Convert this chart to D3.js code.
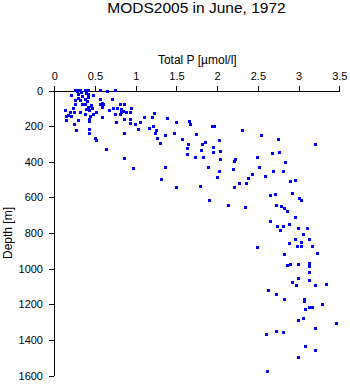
<!DOCTYPE html>
<html>
<head>
<meta charset="utf-8">
<script src="https://cdn.jsdelivr.net/npm/d3@7"></script>
<style>
  html, body { margin: 0; padding: 0; background: #fff; }
  svg { display: block; font-family: "Liberation Sans", Arial, Helvetica, sans-serif; }
  .axis path, .axis line { stroke: #000; stroke-width: 1; shape-rendering: crispEdges; }
  .axis text { fill: #000; font-size: 11px; }
</style>
</head>
<body>
<svg id="chart" width="350" height="384"></svg>
<script>
// Chart text
const title = "MODS2005 in June, 1972";
const xTitle = "Total P [\u00b5mol/l]";
const yTitle = "Depth [m]";

// Axis ticks
const pTicks = [0, 0.5, 1, 1.5, 2, 2.5, 3, 3.5];
const depthTicks = [0, 200, 400, 600, 800, 1000, 1200, 1400, 1600];

// Observations: total phosphorus (µmol/l) and sample depth (m)
const totalP = [
  0.258, 0.300, 0.279, 0.381, 0.414, 0.398, 0.422, 0.479, 0.570, 0.659,
  0.749, 0.209, 0.266, 0.300, 0.324, 0.381, 0.414, 0.405, 0.570, 0.586,
  0.709, 0.266, 0.349, 0.381, 0.422, 0.454, 0.475, 0.586, 0.233, 0.398,
  0.135, 0.193, 0.242, 0.316, 0.381, 0.430, 0.521, 0.684, 0.725, 0.774,
  0.807, 0.823, 0.152, 0.209, 0.447, 0.430, 0.586, 0.749, 0.316, 0.340,
  0.303, 0.352,
  0.570, 0.602, 0.810, 0.865, 0.828, 0.847, 0.889, 0.942, 0.933, 0.479,
  0.459, 0.172, 0.147, 0.300, 0.254, 0.270,
  0.438, 0.430, 0.430, 0.500, 0.516, 0.635, 0.761, 0.860, 0.933, 0.933,
  0.860, 0.860, 0.970, 1.003, 1.032, 1.061, 1.102, 1.203, 1.228, 1.175,
  1.216, 1.237, 1.261, 1.265, 1.310, 1.368, 1.388, 1.319, 1.363, 1.474,
  1.498, 1.498,
  1.572, 1.646, 1.638, 1.638, 1.658, 1.670, 1.744, 1.740, 1.793, 1.805,
  1.817, 1.830, 1.854, 1.891, 1.903, 1.940, 1.965, 1.957, 1.957, 2.002,
  2.026, 2.026, 2.039, 2.039, 2.137, 2.198, 2.210, 2.231, 2.210, 2.272,
  2.309, 2.346, 2.358, 2.387, 2.432, 2.493, 2.498, 2.517, 2.542, 2.591,
  2.603, 2.616, 2.628, 2.657, 2.661, 2.677, 2.689, 2.714, 2.726, 2.726,
  2.726, 2.739, 2.756, 2.768, 2.775, 2.788, 2.809, 2.809, 2.809, 2.825,
  2.825, 2.825, 2.837, 2.858, 2.861, 2.886, 2.886, 2.895, 2.898, 2.923,
  2.928, 2.960, 2.960, 2.965, 2.972, 2.984, 2.993, 2.996, 2.996, 2.996,
  2.996, 3.009, 3.033, 3.033, 3.033, 3.058, 3.058, 3.070, 3.070, 3.082,
  3.087, 3.107, 3.128, 3.128, 3.131, 3.136, 3.136, 3.131, 3.168, 3.168,
  3.205, 3.205, 3.205, 3.205, 3.230, 3.291, 3.340, 3.463
];
const depth = [
     0,    1,    8,    0,    1,   16,   20,   27,    0,    5,
     0,   27,   54,   46,   57,   48,   38,   61,   50,   72,
    50,   80,   76,   80,   95,   91,  103,   95,   99,  106,
   110,  121,  125,  125,  132,  114,  121,  114,  103,  103,
    80,  121,  148,  148,  148,  162,  151,  132,    0,   14,
    25,   34,
    78,   80,  134,   78,  106,  119,  125,  100,  125,  134,
    82,  138,  168,  168,  190,  223,
   176,  219,  241,  269,  279,  331,  179,  161,  162,  183,
   241,  379,  438,  190,  219,  177,  151,  151,  128,  215,
   202,  241,  226,  272,  297,  252,  155,  497,  433,  239,
   177,  545,
   275,  301,  326,  359,  176,  190,  245,  376,  540,  337,
   301,  376,  294,  433,  617,  202,  200,  320,  346,  489,
   281,  454,  343,  388,  647,  444,  396,  386,  545,  523,
   224,  658,  523,  495,  472,  376,  883,  433,  252,  483,
  1372, 1576, 1120,  737,  590,  354,  455,  585,  647, 1145,
  1351,  765,  275,  348,  788,  651,  455,  763, 1357,  664,
   923, 1171,  405,  985,  677,  754,  858,  978,  512, 1079,
   579,  506,  714,  838, 1096,  874,  976,  776, 1058, 1289,
  1498,  606,  619,  854,  874,  810, 1278, 1171, 1184, 1438,
  1227,  776,  838, 1069,  974,  987, 1019, 1216,  874, 1216,
   301, 1097, 1336, 1458,  917, 1199, 1090, 1310
];

const svg = d3.select("#chart");
const margin = { left: 54.3, top: 90.5, size: 285 };

const x = d3.scaleLinear()
  .domain([pTicks[0], pTicks[pTicks.length - 1]])
  .range([margin.left, margin.left + margin.size]);
const y = d3.scaleLinear()
  .domain([depthTicks[0], depthTicks[depthTicks.length - 1]])
  .range([margin.top, margin.top + margin.size]);

// Title
svg.append("text")
  .attr("x", 196.5).attr("y", 13)
  .attr("text-anchor", "middle")
  .style("font-size", "15.5px")
  .text(title);

// Phosphorus axis along the top
const xAxis = svg.append("g")
  .attr("class", "axis")
  .attr("transform", `translate(0,${Math.round(margin.top)})`)
  .call(d3.axisTop(x).tickValues(pTicks).tickFormat(d3.format("~g"))
    .tickSize(5).tickSizeOuter(0).tickPadding(6));

svg.append("text")
  .attr("x", x((pTicks[0] + pTicks[pTicks.length - 1]) / 2) + 0.5)
  .attr("y", 64)
  .attr("text-anchor", "middle")
  .style("font-size", "12px")
  .text(xTitle);

// Depth axis, increasing downwards
svg.append("g")
  .attr("class", "axis")
  .attr("transform", `translate(${Math.round(margin.left)},0)`)
  .call(d3.axisLeft(y).tickValues(depthTicks).tickFormat(d3.format("d"))
    .tickSize(5).tickSizeOuter(0).tickPadding(6));

svg.append("text")
  .attr("transform", `translate(12,${y(800)}) rotate(-90)`)
  .attr("text-anchor", "middle")
  .style("font-size", "12px")
  .text(yTitle);

// Samples as small square markers
const pts = totalP.map((p, i) => ({ p, d: depth[i] }));
svg.append("g")
  .selectAll("rect")
  .data(pts)
  .join("rect")
  .attr("x", d => Math.round(x(d.p) - 1.5))
  .attr("y", d => Math.round(y(d.d) - 1.5))
  .attr("width", 3)
  .attr("height", 3)
  .attr("fill", "#0000ff")
  .attr("shape-rendering", "crispEdges");
</script>
</body>
</html>
